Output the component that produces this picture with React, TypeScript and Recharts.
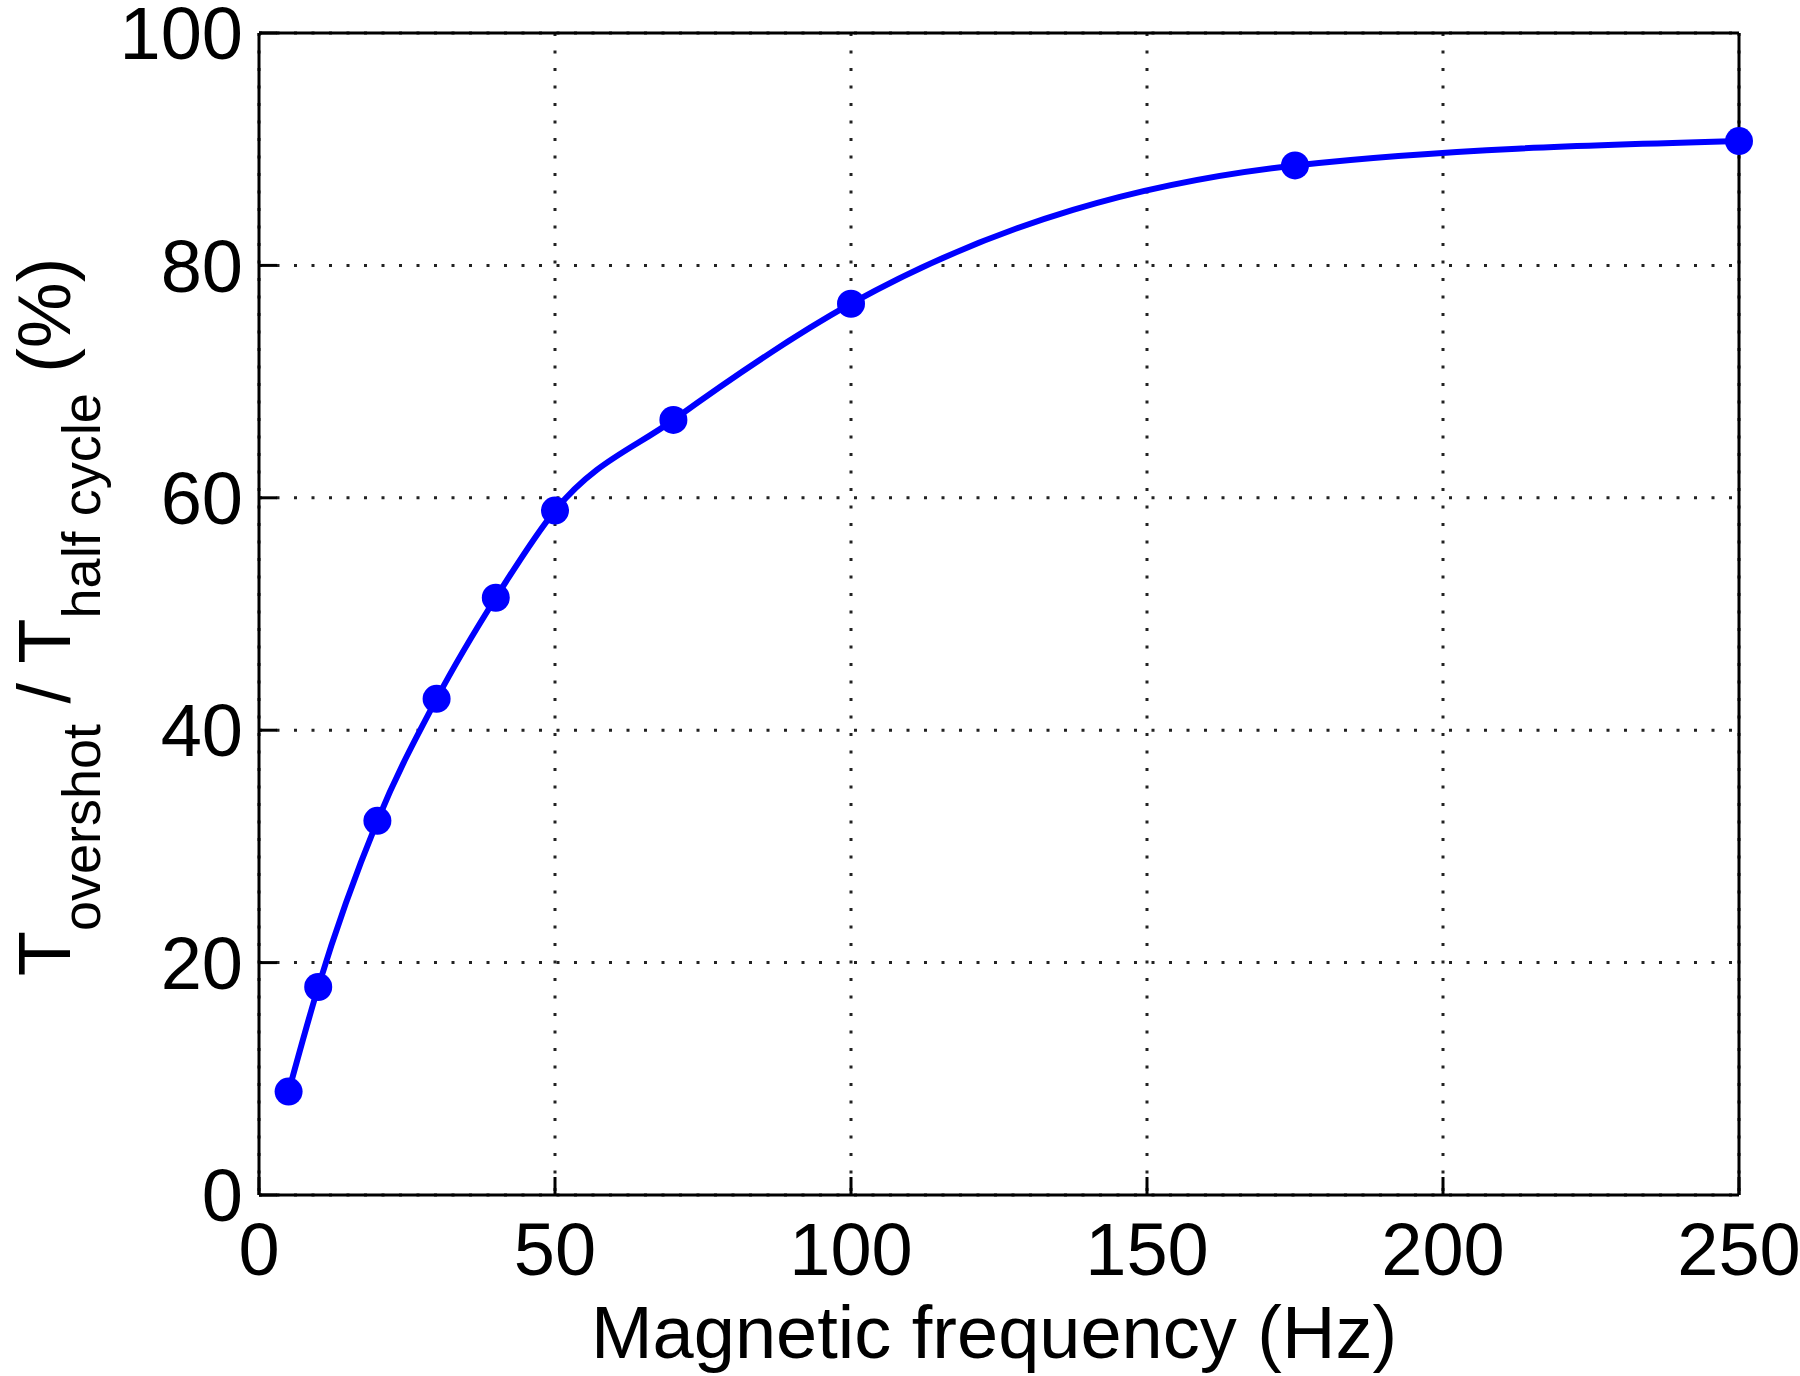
import React from "react";
import { LineChart, Line, XAxis, YAxis, CartesianGrid } from "recharts";

const freqHz = [5, 10, 20, 30, 40, 50, 70, 100, 175, 250];
const overshootPct = [8.9, 17.9, 32.2, 42.7, 51.4, 58.9, 66.7, 76.7, 88.6, 90.7];
const xTicks = [0, 50, 100, 150, 200, 250];
const yTicks = [0, 20, 40, 60, 80, 100];

const data = freqHz.map((f, i) => ({ f, v: overshootPct[i] }));

const FONT = "'Liberation Sans', Arial, Helvetica, sans-serif";
const BIG = 74;
const SUB = 54;

const axisStroke = { stroke: "#000", strokeWidth: 3 };
const tickStyle = { fontSize: BIG, fill: "#000", fontFamily: FONT };

function YLabel(props: any) {
  const vb = props.viewBox || { x: 59, y: 33, width: 200, height: 1162 };
  // keep the big glyphs' ascent inside the left page edge
  const x = vb.x + 11;
  const y = vb.y + vb.height / 2 + 3;
  return (
    <text
      transform={`translate(${x}, ${y}) rotate(-90)`}
      textAnchor="middle"
      fontFamily={FONT}
      fontSize={BIG}
      fill="#000"
    >
      T
      <tspan fontSize={SUB} dy={30}>overshot</tspan>
      <tspan dy={-30}>{" / T"}</tspan>
      <tspan fontSize={SUB} dy={30}>half cycle</tspan>
      <tspan dy={-30}>{" (%)"}</tspan>
    </text>
  );
}

function XLabel(props: any) {
  const vb = props.viewBox || { x: 259, y: 1195, width: 1480, height: 100 };
  return (
    <text
      x={vb.x + vb.width / 2 - 5}
      y={vb.y + 163}
      textAnchor="middle"
      fontFamily={FONT}
      fontSize={BIG}
      fill="#000"
    >
      Magnetic frequency (Hz)
    </text>
  );
}

export default function App() {
  return (
    <div style={{ position: "absolute", left: 0, top: 0, background: "#fff" }}>
      <LineChart
        width={1800}
        height={1376}
        data={data}
        margin={{ top: 32, right: 60, bottom: 81, left: 59 }}
      >
        <CartesianGrid
          stroke="#222"
          strokeWidth={3}
          strokeDasharray="3 14.5"
        />
        <XAxis
          dataKey="f"
          type="number"
          domain={[0, 250]}
          ticks={xTicks}
          interval={0}
          height={100}
          tickSize={-18}
          tickMargin={45}
          axisLine={axisStroke}
          tickLine={axisStroke}
          tick={tickStyle}
          label={{ content: XLabel }}
        />
        <XAxis
          xAxisId="top"
          orientation="top"
          type="number"
          domain={[0, 250]}
          ticks={xTicks}
          interval={0}
          height={1}
          tickSize={-18}
          axisLine={axisStroke}
          tickLine={axisStroke}
          tick={false}
        />
        <YAxis
          type="number"
          domain={[0, 100]}
          ticks={yTicks}
          interval={0}
          width={200}
          tickSize={-18}
          tickMargin={34}
          axisLine={axisStroke}
          tickLine={axisStroke}
          tick={tickStyle}
          label={{ content: YLabel }}
        />
        <YAxis
          yAxisId="right"
          orientation="right"
          type="number"
          domain={[0, 100]}
          ticks={yTicks}
          interval={0}
          width={1}
          tickSize={-18}
          axisLine={axisStroke}
          tickLine={axisStroke}
          tick={false}
        />
        <Line
          dataKey="v"
          type="monotone"
          stroke="#0000ff"
          strokeWidth={6}
          dot={{ r: 14, fill: "#0000ff", stroke: "#0000ff", strokeWidth: 0 }}
          isAnimationActive={false}
        />
      </LineChart>
    </div>
  );
}
